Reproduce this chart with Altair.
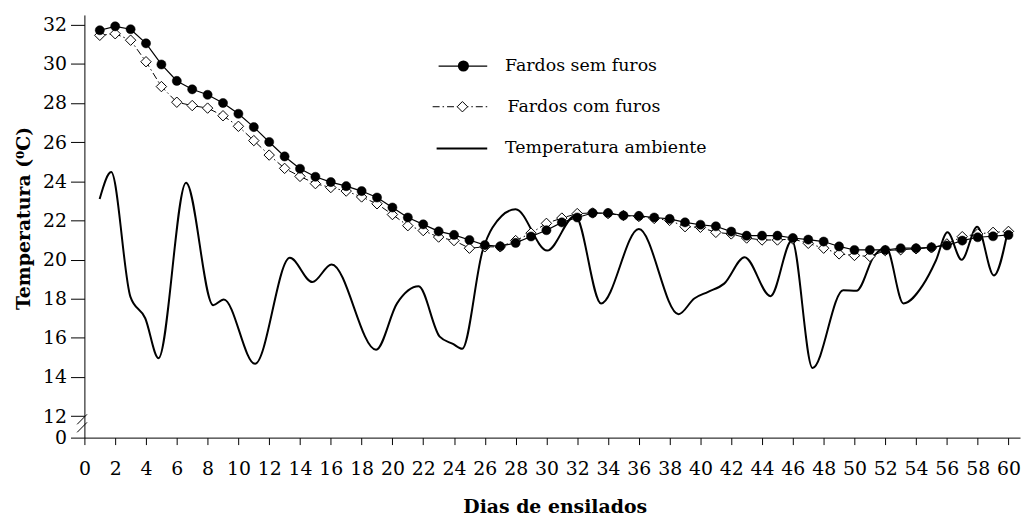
import altair as alt
import pandas as pd

# ---------------- data ----------------
days = list(range(1, 61))

sem_furos = [31.72, 31.92, 31.77, 31.05, 29.97, 29.13, 28.70, 28.42, 28.00, 27.45,
             26.77, 26.01, 25.27, 24.64, 24.23, 23.96, 23.75, 23.50, 23.17, 22.66,
             22.15, 21.80, 21.44, 21.26, 21.00, 20.74, 20.68, 20.85, 21.18, 21.50,
             21.90, 22.15, 22.38, 22.38, 22.25, 22.23, 22.15, 22.08, 21.90, 21.78,
             21.70, 21.43, 21.22, 21.22, 21.22, 21.10, 21.02, 20.92, 20.67, 20.49,
             20.49, 20.49, 20.58, 20.58, 20.63, 20.72, 20.97, 21.14, 21.19, 21.26]

com_furos = [31.46, 31.54, 31.21, 30.11, 28.84, 28.04, 27.87, 27.74, 27.35, 26.81,
             26.08, 25.34, 24.66, 24.25, 23.88, 23.68, 23.50, 23.20, 22.85, 22.30,
             21.73, 21.48, 21.15, 20.97, 20.58, 20.65, 20.65, 20.97, 21.35, 21.85,
             22.12, 22.35, 22.38, 22.35, 22.25, 22.20, 22.10, 22.00, 21.68, 21.65,
             21.39, 21.31, 21.10, 21.00, 21.00, 21.05, 20.83, 20.58, 20.29, 20.21,
             20.16, 20.46, 20.50, 20.55, 20.60, 20.80, 21.17, 21.31, 21.39, 21.44]

amb_days = [0.99, 1.74, 2.99, 3.95, 4.81, 6.6, 8.36, 9.05, 11.08, 13.34,
            14.8, 16.05, 18.94, 20.3, 21.7, 23.07, 23.93, 24.53, 25.86, 26.5,
            28.0, 30.05, 31.87, 33.55, 36.0, 38.58, 39.6, 40.5, 41.54, 42.87,
            44.55, 45.94, 47.28, 49.27, 50.13, 51.3, 52.06, 53.18, 54.43, 55.29,
            56.04, 56.96, 57.97, 59.05, 60.0]
amb_temp = [23.09, 24.47, 18.09, 17.0, 14.96, 23.93, 17.67, 17.96, 14.67, 20.09,
            18.85, 19.75, 15.39, 17.76, 18.63, 16.06, 15.69, 15.44, 20.46, 21.64,
            22.57, 20.46, 22.24, 17.76, 21.56, 17.21, 18.01, 18.35, 18.77, 20.12,
            18.13, 20.97, 14.46, 18.43, 18.40, 20.21, 20.60, 17.76, 18.68, 19.95,
            21.39, 19.99, 21.68, 19.19, 21.64]

x_ticks = list(range(0, 61, 2))
y_ticks = [10.9] + list(range(12, 33, 2))   # bottom tick is shown as "0" (broken axis)

legend_labels = ["Fardos sem furos", "Fardos com furos", "Temperatura ambiente"]

# axis-break slashes (data coordinates)
break_x1 = [-0.47, -0.47]
break_x2 = [0.17, 0.17]
break_y1 = [11.58, 11.17]
break_y2 = [12.09, 11.68]

# ---------------- layout / style ----------------
FONT = "DejaVu Serif"
X_DOMAIN = [0, 60.75]
Y_DOMAIN = [10.9, 32.5]
W, H = 943, 426

# legend layout (pixels inside plot area)
LEG_LINE = [(357, 406), (351, 407), (355, 406)]
LEG_Y = [51.5, 92.5, 134.5]
LEG_MARK_X = [382, 381]
LEG_TEXT_X = [424, 426.5, 424]

DASHDOT = [7, 3, 1.5, 3]

xs = alt.Scale(domain=X_DOMAIN, nice=False, zero=False)
ys = alt.Scale(domain=Y_DOMAIN, nice=False, zero=False)

df_sem = pd.DataFrame({"dia": days, "temp": sem_furos})
df_com = pd.DataFrame({"dia": days, "temp": com_furos})
df_amb = pd.DataFrame({"dia": amb_days, "temp": amb_temp})
df_brk = pd.DataFrame({"dia": break_x1, "dia2": break_x2, "temp": break_y1, "temp2": break_y2})

x_axis = alt.Axis(
    values=x_ticks, title="Dias de ensilados", grid=False,
    domainColor="black", domainWidth=1, tickColor="black", tickSize=7, tickWidth=1,
    labelFont=FONT, labelFontSize=19, labelColor="black", labelPadding=15,
    labelFlush=False, labelOverlap=False,
    titleFont=FONT, titleFontSize=19, titleFontWeight="bold", titleColor="black",
    titleBaseline="alphabetic", titleY=75, titleX=474,
)
y_axis = alt.Axis(
    values=y_ticks, title="Temperatura (⁰C)", grid=False,
    labelExpr="datum.value < 11 ? '0' : datum.label",
    domainColor="black", domainWidth=1, tickColor="black", tickSize=14, tickWidth=1,
    labelFont=FONT, labelFontSize=19, labelColor="black", labelPadding=4,
    labelFlush=False, labelOverlap=False,
    titleFont=FONT, titleFontSize=19, titleFontWeight="bold", titleColor="black",
    titleAngle=-90, titleBaseline="alphabetic", titleAlign="center",
    titleX=-55, titleY=204.5,
)

X = alt.X("dia:Q", scale=xs, axis=x_axis)
Y = alt.Y("temp:Q", scale=ys, axis=y_axis)

amb = alt.Chart(df_amb).mark_line(
    color="black", strokeWidth=2, interpolate="monotone"
).encode(x=X, y=Y)

com_line = alt.Chart(df_com).mark_line(color="black", strokeWidth=1, strokeDash=DASHDOT).encode(x=X, y=Y)
com_pts = alt.Chart(df_com).mark_point(
    shape="diamond", filled=True, fill="white", stroke="black", strokeWidth=1, size=110, opacity=1
).encode(x=X, y=Y)

sem_line = alt.Chart(df_sem).mark_line(color="black", strokeWidth=1.2).encode(x=X, y=Y)
sem_pts = alt.Chart(df_sem).mark_point(
    shape="circle", filled=True, fill="black", stroke="black", strokeWidth=0.5, size=85, opacity=1
).encode(x=X, y=Y)

brk = alt.Chart(df_brk).mark_rule(color="black", strokeWidth=1).encode(
    x=X, x2="dia2:Q", y=Y, y2="temp2:Q")

# ---------------- legend (drawn inside the plot) ----------------
leg_layers = []
for i, lab in enumerate(legend_labels):
    d = pd.DataFrame({"label": [lab]})
    rule_kw = dict(color="black", strokeWidth=2 if i == 2 else 1.2)
    if i == 1:
        rule_kw["strokeDash"] = DASHDOT
        rule_kw["strokeWidth"] = 1
    leg_layers.append(alt.Chart(d).mark_rule(**rule_kw).encode(
        x=alt.value(LEG_LINE[i][0]), x2=alt.value(LEG_LINE[i][1]), y=alt.value(LEG_Y[i])))
    if i == 0:
        leg_layers.append(alt.Chart(d).mark_point(
            shape="circle", filled=True, fill="black", stroke="black", size=85, opacity=1
        ).encode(x=alt.value(LEG_MARK_X[0]), y=alt.value(LEG_Y[0])))
    if i == 1:
        leg_layers.append(alt.Chart(d).mark_point(
            shape="diamond", filled=True, fill="white", stroke="black", strokeWidth=1, size=110, opacity=1
        ).encode(x=alt.value(LEG_MARK_X[1]), y=alt.value(LEG_Y[1])))
    leg_layers.append(alt.Chart(d).mark_text(
        align="left", baseline="middle", font=FONT, fontSize=17.5, color="black"
    ).encode(x=alt.value(LEG_TEXT_X[i]), y=alt.value(LEG_Y[i]), text="label:N"))

chart = alt.layer(
    amb, com_line, com_pts, sem_line, sem_pts, brk, *leg_layers
).properties(
    width=W, height=H,
    autosize=alt.AutoSizeParams(type="none"),
    padding={"left": 77, "top": 5, "right": 2, "bottom": 79},
).configure(background="white", font=FONT).configure_view(stroke=None)

chart.save("out.html", embed_options={"renderer": "svg", "actions": False})
